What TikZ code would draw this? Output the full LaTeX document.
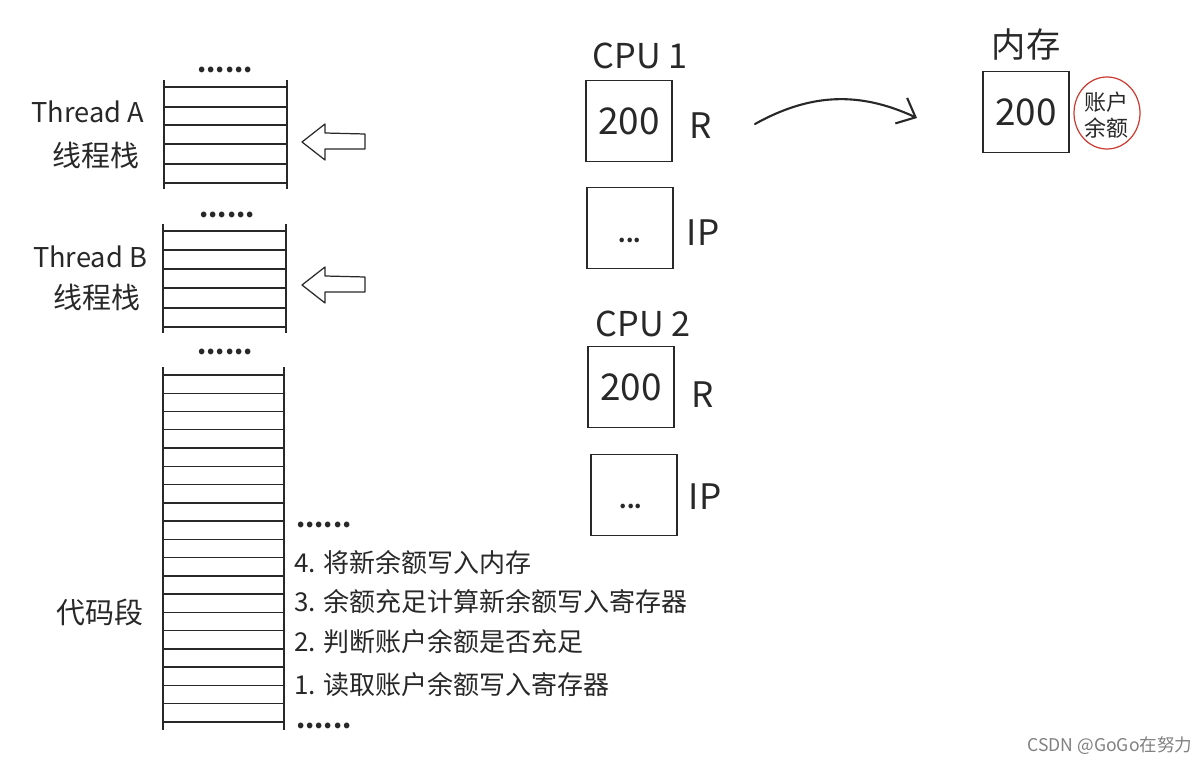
\documentclass[tikz,border=0pt]{standalone}
\usepackage{fontspec}
\newfontfamily\cjk{Noto Sans CJK SC}
\usetikzlibrary{arrows.meta}
\definecolor{circred}{RGB}{205,60,50}
\definecolor{inkgray}{RGB}{40,40,40}

\begin{document}
\begin{tikzpicture}[x=0.02cm,y=-0.02cm,
  every node/.style={font=\cjk,text=inkgray},
  reg/.style={draw=inkgray,line width=0.9pt,minimum width=1.72cm,minimum height=1.62cm,inner sep=0pt,font=\cjk\fontsize{21}{24}\selectfont},
  stackline/.style={draw=inkgray,line width=0.8pt},
  hollow/.style={draw=inkgray,fill=white,line width=0.7pt,line join=round},
  tname/.style={font=\cjk\fontsize{16.5}{19}\selectfont},
  tlatin/.style={font=\cjk\fontsize{15.5}{18}\selectfont},
  codeline/.style={anchor=west,font=\cjk\fontsize{14.8}{17}\selectfont},
  dots/.style={font=\cjk\bfseries\fontsize{15}{17}\selectfont},
  title/.style={font=\cjk\fontsize{19.5}{22}\selectfont},
  regname/.style={font=\cjk\fontsize{20}{23}\selectfont}
]
\useasboundingbox (0,0) rectangle (1200,760);

% thread A stack
\draw[stackline] (164,80) -- (164,189);
\draw[stackline] (287,80) -- (287,189);
\foreach \y in {87,107,125,144,164,183}
  \draw[stackline] (164,\y) -- (287,\y);
\node[dots] (dotsA) at (225,70) {......};
\node[tlatin] (thA) at (88,112) {Thread A};
\node[tname] (stkA) at (96,155) {线程栈};
\draw[hollow] (302,142) -- (325,124) -- (325,133) -- (365,134) -- (365,149) -- (325,149) -- (325,160) -- cycle;

% thread B stack
\draw[stackline] (163,224) -- (163,333);
\draw[stackline] (286,224) -- (286,333);
\foreach \y in {231,250,269,288,308,327}
  \draw[stackline] (163,\y) -- (286,\y);
\node[dots] (dotsB) at (227,215) {......};
\node[tlatin] (thB) at (90,257) {Thread B};
\node[tname] (stkB) at (97,297) {线程栈};
\draw[hollow] (302,285) -- (325,267) -- (325,276) -- (365,277) -- (365,292) -- (325,292) -- (325,303) -- cycle;

% code segment
\draw[stackline] (163,367) -- (163,730);
\draw[stackline] (284,367) -- (284,730);
\foreach \i in {0,...,19}
  \draw[stackline] (163,{375+18.26*\i}) -- (284,{375+18.26*\i});
\node[dots] (dotsC) at (225,352) {......};
\node[tname] (code) at (100,612) {代码段};
\node[dots,anchor=west] (opTop) at (290,525) {......};
\node[codeline] (op4) at (288,563) {4. 将新余额写入内存};
\node[codeline] (op3) at (288,602) {3. 余额充足计算新余额写入寄存器};
\node[codeline] (op2) at (288,642) {2. 判断账户余额是否充足};
\node[codeline] (op1) at (288,685) {1. 读取账户余额写入寄存器};
\node[dots,anchor=west] (opEnd) at (290,726) {......};

% cpu 1
\node[title] (cpu1) at (640,56) {CPU 1};
\node[reg] (r1) at (629,121) {200};
\node[regname] (r1name) at (701,126) {R};
\node[reg] (ip1) at (630,228) {};
\node[font=\cjk\bfseries\fontsize{12}{14}\selectfont] (ip1dots) at (630,240) {...};
\node[regname] (ip1name) at (703,233) {IP};

% cpu 2
\node[title] (cpu2) at (643,324) {CPU 2};
\node[reg] (r2) at (631,387) {200};
\node[regname] (r2name) at (703,395) {R};
\node[reg] (ip2) at (634,495) {};
\node[font=\cjk\bfseries\fontsize{12}{14}\selectfont] (ip2dots) at (631,506) {...};
\node[regname] (ip2name) at (705,497) {IP};

% memory
\node[title] (mem) at (1026,45) {内存};
\node[reg] (m) at (1026,112) {200};
\draw[circred,line width=0.7pt] (1107,113) ellipse (33 and 36);
\node[font=\cjk\fontsize{12.5}{15}\selectfont,align=center] (acct) at (1106,115) {账户\\余额};

% write back
\coordinate (wstart) at (755,124);
\coordinate (wend) at (917,118);
\draw[inkgray,line width=1.2pt,line cap=round,-{Straight Barb[length=9pt,width=16pt,line width=1.2pt]}] (wstart) to[bend left=27] (wend);

\node[font=\cjk\fontsize{10}{12}\selectfont,text=gray] (wm) at (1110,746) {CSDN @GoGo在努力};
\end{tikzpicture}
\end{document}
